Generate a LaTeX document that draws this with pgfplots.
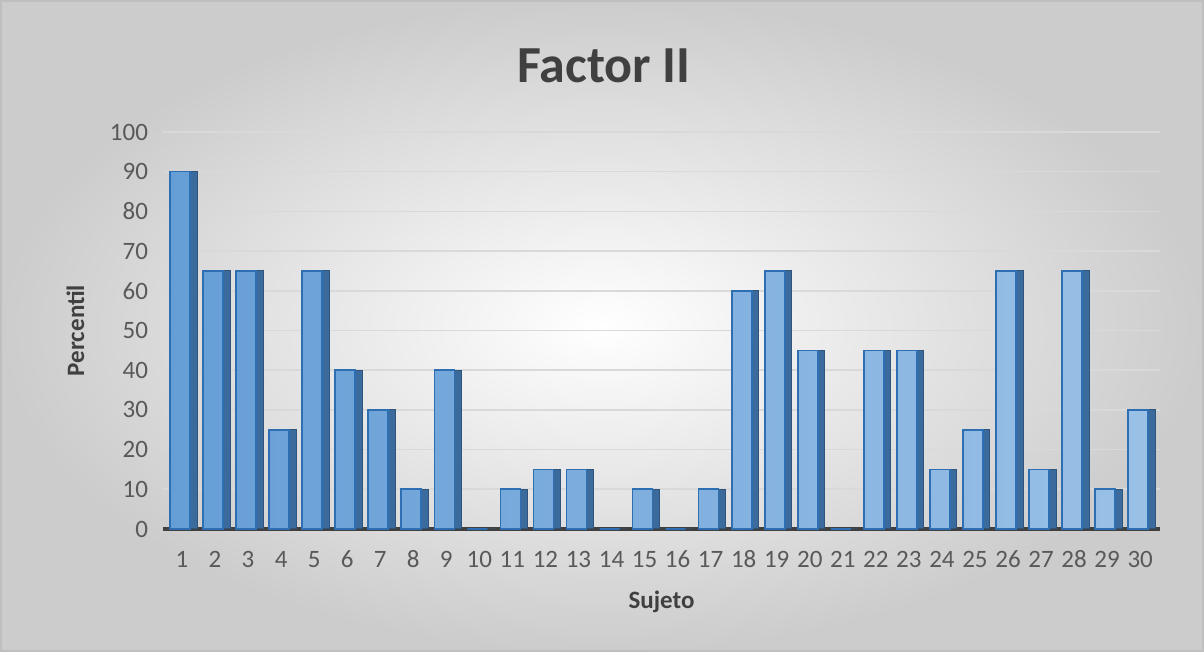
\documentclass[border=0pt]{standalone}
\usepackage{fontspec}
\setmainfont{Carlito}
\usepackage{pgfplots}
\pgfplotsset{compat=1.18}
\definecolor{frontblue}{HTML}{6FA6DC}
\definecolor{edgeblue}{HTML}{2E6FB4}
\definecolor{sideblue}{HTML}{3B6A9C}
\definecolor{ticktxt}{HTML}{595959}
\definecolor{titletxt}{HTML}{404040}
\begin{document}
\begin{tikzpicture}
\useasboundingbox (0,0) rectangle (602pt,326pt);
\shade[inner color=white, outer color=black!20] (0,0) rectangle (602pt,326pt);
\draw[black!25, line width=0.8pt] (0.4pt,0.4pt) rectangle (601.6pt,325.6pt);
\node[font=\fontsize{26}{30}\selectfont\bfseries, text=titletxt] at (302pt,293pt) {Factor II};
\begin{axis}[
  at={(81.5pt,61.5pt)}, anchor=south west,
  scale only axis, width=498.5pt, height=198.5pt,
  xmin=0.425, xmax=30.6, ymin=0, ymax=100,
  xtick={1,...,30}, ytick={0,10,...,100},
  axis x line*=bottom, axis y line*=left,
  x axis line style={draw=black!75, line width=1.6pt},
  y axis line style={draw=none},
  major tick length=0pt,
  ymajorgrids, grid style={draw=black!15, line width=0.8pt},
  tick label style={font=\fontsize{12.5}{14}\selectfont, text=ticktxt},
  /pgf/number format/assume math mode=true,
  xticklabel style={yshift=-7pt, text height=8.5pt, text depth=0pt, anchor=north},
  yticklabel style={xshift=-4pt},
  xlabel={\textbf{Sujeto}}, ylabel={\textbf{Percentil}},
  label style={font=\fontsize{12.5}{14}\selectfont, text=titletxt},
  xlabel style={yshift=-5pt},
  ylabel style={yshift=6pt},
  clip=false,
]
\addplot[ybar, bar width=12pt, bar shift=1.5pt, fill=sideblue, draw=sideblue!80!black, line width=0.5pt] coordinates {
(1,90) (2,65) (3,65) (4,25) (5,65) (6,40) (7,30) (8,10) (9,40) (10,0)
(11,10) (12,15) (13,15) (14,0) (15,10) (16,0) (17,10) (18,60) (19,65) (20,45)
(21,0) (22,45) (23,45) (24,15) (25,25) (26,65) (27,15) (28,65) (29,10) (30,30)};
\addplot[ybar, bar width=10pt, bar shift=-1pt, left color=frontblue!85!edgeblue, right color=frontblue!70!white, draw=edgeblue, line width=0.8pt] coordinates {
(1,90) (2,65) (3,65) (4,25) (5,65) (6,40) (7,30) (8,10) (9,40) (10,0)
(11,10) (12,15) (13,15) (14,0) (15,10) (16,0) (17,10) (18,60) (19,65) (20,45)
(21,0) (22,45) (23,45) (24,15) (25,25) (26,65) (27,15) (28,65) (29,10) (30,30)};
\end{axis}
\end{tikzpicture}
\end{document}
